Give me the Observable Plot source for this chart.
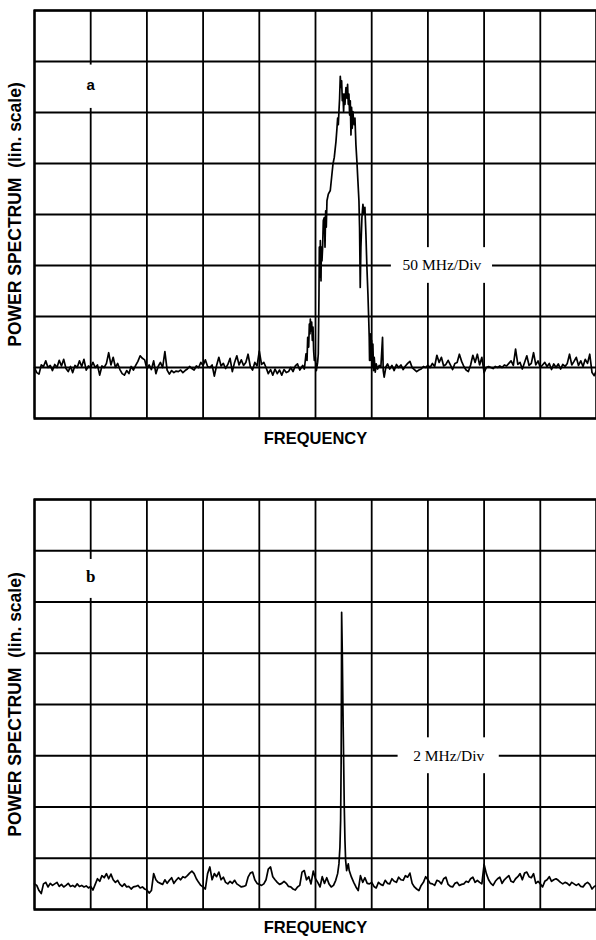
<!DOCTYPE html>
<html>
<head>
<meta charset="utf-8">
<script src="https://cdn.jsdelivr.net/npm/d3@7"></script>
<script src="https://cdn.jsdelivr.net/npm/@observablehq/plot@0.6"></script>
<style>
  html, body { margin: 0; padding: 0; background: #fff; }
  body { width: 596px; height: 940px; overflow: hidden; }
  .panel { width: 596px; height: 470px; overflow: hidden; }
  .panel svg { display: block; }
</style>
</head>
<body>
<div id="pa" class="panel"></div>
<div id="pb" class="panel"></div>
<script>
// ---- sampling of the analyser trace, in screen divisions ----
const sampleStep = 0.04;            // divisions between noise samples
const xDivisions = d3.range(0, 11); // 10 horizontal divisions
const yDivisions = d3.range(0, 9);  // 8 vertical divisions

// ---- Panel a (50 MHz/Div) ----
const aLeftStart = 0;
const aLeft = [
  1.0,0.90,0.87,1.05,1.02,1.13,1.0,1.04,0.94,1.06,
  1.0,1.14,1.03,1.16,0.98,0.92,1.02,0.90,1.04,1.0,
  1.13,1.02,1.16,0.95,1.03,1.0,1.10,1.0,1.05,0.85,
  1.03,1.0,1.08,1.29,1.05,1.20,1.0,1.08,0.96,0.88,
  0.85,0.94,0.88,1.02,0.95,1.04,1.12,1.23,1.18,1.15,
  0.97,1.05,0.96,1.13,0.88,1.02,1.10,1.0,1.31,0.95,
  0.87,0.94,0.90,0.93,0.92,0.95,0.90,0.94,0.97,1.02,
  0.98,0.95,1.03,1.0,1.10,1.04,1.15,1.02,1.0,1.05,
  0.83,1.04,1.20,1.03,1.08,0.98,1.06,1.18,0.92,1.10,
  1.23,1.05,1.15,1.04,1.10,1.26,1.02,0.95,1.10,1.03,
  1.32,1.06,1.10,1.0,0.88,0.96,0.85,0.97,0.88,0.95,
  0.85,0.96,0.90,0.92,1.0,0.92,1.03,1.07,0.95
];
const aPeakX = [
  4.772,4.802,4.831,4.849,4.861,4.879,4.890,4.902,4.908,4.920,
  4.932,4.944,4.956,4.967,4.979,4.997,5.015,5.038,5.050,5.062,
  5.068,5.080,5.086,5.098,5.104,5.115,5.127,5.139,5.157,5.169,
  5.181,5.192,5.204,5.228,5.263,5.287,5.311,5.334,5.364,5.382,
  5.394,5.406,5.417,5.429,5.441,5.453,5.465,5.477,5.488,5.500,
  5.512,5.524,5.542,5.560,5.571,5.583,5.595,5.607,5.619,5.631,
  5.642,5.654,5.666,5.678,5.690,5.702,5.719,5.737,5.755,5.773,
  5.784,5.796,5.808,5.826,5.844,5.861,5.879,5.897,5.915,5.933,
  5.944,5.956,5.962,5.974,5.986,5.998,6.010,6.021,6.033,6.045,
  6.063,6.081,6.104,6.134,6.163,6.193,6.205,6.222,6.252,6.282
];
const aPeakY = [
  1.04,0.97,1.27,1.14,1.59,1.40,1.85,1.66,1.95,1.72,
  1.89,1.53,1.79,1.33,1.14,1.20,0.94,1.10,1.27,2.44,
  3.36,2.77,3.49,2.70,3.36,3.09,3.36,3.88,3.94,3.36,
  4.07,3.75,4.27,4.40,4.47,4.73,4.99,5.12,5.43,5.69,
  5.89,5.76,6.02,6.28,6.71,6.49,6.62,6.23,6.36,6.02,
  6.36,6.16,6.49,6.28,6.55,6.16,6.36,5.95,6.23,5.56,
  6.10,5.69,6.02,5.82,5.76,5.89,5.37,5.04,4.65,4.27,
  3.75,2.57,3.36,3.94,4.20,4.01,4.14,3.62,2.96,2.44,
  2.05,1.59,1.14,1.66,1.14,1.53,1.01,1.46,0.94,1.20,
  0.91,1.07,0.97,1.04,1.01,1.59,0.94,0.81,1.01,1.07
];
const aRightStart = 6.32;
const aRight = [
  0.97,1.04,0.94,1.06,1.0,1.05,0.96,1.03,1.08,1.12,
  1.0,0.96,0.92,0.95,0.97,1.02,1.0,1.04,1.0,1.08,
  1.02,1.24,1.10,1.20,1.03,1.06,1.14,1.05,0.96,1.08,
  1.10,1.26,1.12,1.02,0.95,0.92,1.05,1.24,1.10,1.26,
  1.05,1.20,0.90,1.0,1.02,1.0,0.98,1.02,1.0,1.03,
  1.0,1.05,1.03,1.08,1.13,1.04,1.36,1.06,1.10,0.97,
  1.10,1.23,1.04,1.08,1.29,1.05,1.13,1.0,1.05,1.10,
  1.02,1.08,0.96,1.07,1.0,1.07,0.97,1.06,1.02,1.08,
  1.26,1.05,1.12,1.20,1.04,1.13,1.02,1.16,1.08,1.26,
  0.90,0.84,0.95
];

// ---- Panel b (2 MHz/Div) ----
const bLeftStart = 0;
const bLeft = [
  0.50,0.47,0.37,0.31,0.50,0.53,0.44,0.51,0.47,0.50,
  0.53,0.45,0.49,0.44,0.47,0.51,0.45,0.47,0.44,0.50,
  0.45,0.47,0.44,0.46,0.42,0.45,0.38,0.49,0.60,0.55,
  0.66,0.62,0.70,0.60,0.69,0.58,0.53,0.57,0.49,0.45,
  0.50,0.44,0.45,0.40,0.44,0.45,0.47,0.42,0.44,0.40,
  0.38,0.32,0.37,0.70,0.58,0.53,0.51,0.49,0.58,0.51,
  0.57,0.62,0.51,0.57,0.62,0.58,0.64,0.62,0.66,0.71,
  0.75,0.70,0.60,0.53,0.47,0.44,0.40,0.70,0.83,0.58,
  0.70,0.64,0.73,0.58,0.63,0.53,0.50,0.55,0.51,0.57,
  0.50,0.47,0.44,0.45,0.47,0.63,0.71,0.73,0.58,0.51,
  0.49,0.47,0.50,0.58,0.79,0.83,0.64,0.58,0.53,0.49,
  0.51,0.55,0.51,0.45,0.44,0.40,0.38,0.44,0.47,0.73,
  0.76,0.58,0.64,0.50,0.75,0.60,0.53,0.44,0.64,0.51,
  0.62,0.50,0.44,0.47,0.57
];
const bPeakX = [5.394,5.417,5.435,5.447,5.456,5.462,5.465,5.477,5.488,5.500,5.512,5.524,5.536,5.554,5.583];
const bPeakY = [0.70,0.89,1.22,1.74,2.84,4.47,5.80,4.99,3.95,2.97,2.00,1.35,0.96,0.76,0.89];
const bRightStart = 5.60;
const bRight = [
  0.76,0.63,0.53,0.44,0.37,0.66,0.53,0.62,0.51,0.50,
  0.53,0.45,0.42,0.53,0.49,0.47,0.57,0.51,0.50,0.60,
  0.55,0.53,0.63,0.58,0.57,0.66,0.63,0.71,0.51,0.44,
  0.40,0.37,0.47,0.53,0.64,0.58,0.51,0.50,0.47,0.57,
  0.55,0.50,0.60,0.63,0.49,0.45,0.44,0.51,0.53,0.47,
  0.49,0.50,0.55,0.53,0.60,0.63,0.53,0.57,0.53,0.50,
  0.88,0.70,0.58,0.51,0.47,0.55,0.60,0.63,0.51,0.58,
  0.62,0.66,0.55,0.53,0.60,0.64,0.70,0.58,0.71,0.73,
  0.64,0.62,0.70,0.51,0.55,0.50,0.44,0.55,0.58,0.64,
  0.55,0.58,0.60,0.57,0.53,0.50,0.53,0.51,0.47,0.53,
  0.50,0.47,0.50,0.45,0.44,0.50,0.53,0.49,0.40,0.45,
  0.47
];

// ---- annotations ----
const aPanelLabel = [{x: 1, y: 6.53, text: "a"}];
const bPanelLabel = [{x: 1, y: 6.50, text: "b"}];
const aScaleLabel = [{x: 7.25, y: 3, text: "50 MHz/Div"}];
const bScaleLabel = [{x: 7.37, y: 3, text: "2 MHz/Div"}];
const xTitle = "FREQUENCY";
const yTitle = "POWER SPECTRUM\u00a0\u00a0(lin. scale)";

function sampled(start, values) {
  return values.map((v, i) => ({x: start + i * sampleStep, y: v}));
}
function paired(xs, ys) {
  return xs.map((x, i) => ({x, y: ys[i]}));
}

const traceA = [...sampled(aLeftStart, aLeft), ...paired(aPeakX, aPeakY), ...sampled(aRightStart, aRight)];
const traceB = [...sampled(bLeftStart, bLeft), ...paired(bPeakX, bPeakY), ...sampled(bRightStart, bRight)];

const SANS = "'Liberation Sans', Arial, Helvetica, sans-serif";
const SERIF = "'Liberation Serif', 'Times New Roman', serif";

function panel({trace, top, bottom, panelLabel, panelFont, panelSize, scaleLabel, boxTop, boxBottom, xTitleDy}) {
  return Plot.plot({
    width: 596,
    height: 470,
    marginLeft: 34,
    marginRight: 0,
    marginTop: top,
    marginBottom: bottom,
    x: {domain: [0, 10], axis: null},
    y: {domain: [0, 8], axis: null},
    style: {background: "#fff", overflow: "visible"},
    marks: [
      Plot.gridX(xDivisions, {stroke: "#000", strokeOpacity: 1, strokeWidth: 1.8}),
      Plot.gridY(yDivisions, {stroke: "#000", strokeOpacity: 1, strokeWidth: 1.8}),
      Plot.frame({stroke: "#000", strokeWidth: 2.3}),
      // white gaps in the graticule behind annotations
      Plot.rect(panelLabel, {x1: d => d.x - 0.15, x2: d => d.x + 0.15, y1: d => d.y - boxBottom, y2: d => d.y + boxTop, fill: "#fff"}),
      Plot.rect(scaleLabel, {x1: d => d.x - 0.9, x2: d => d.x + 0.9, y1: d => d.y - 0.35, y2: d => d.y + 0.35, fill: "#fff"}),
      Plot.line(trace, {x: "x", y: "y", stroke: "#000", strokeWidth: 1.7, strokeLinejoin: "round"}),
      Plot.text(panelLabel, {x: "x", y: "y", text: "text", fontFamily: panelFont, fontWeight: "bold", fontSize: panelSize, fill: "#000"}),
      Plot.text(scaleLabel, {x: "x", y: "y", text: "text", fontFamily: SERIF, fontSize: 15.5, fill: "#000"}),
      Plot.text([xTitle], {frameAnchor: "bottom", dy: xTitleDy, textAnchor: "middle", lineAnchor: "middle", fontFamily: SANS, fontWeight: "bold", fontSize: 16.5, letterSpacing: "0.4px", fill: "#000"}),
      Plot.text([yTitle], {frameAnchor: "left", dx: -19, rotate: -90, textAnchor: "middle", lineAnchor: "middle", fontFamily: SANS, fontWeight: "bold", fontSize: 17.5, fill: "#000"})
    ]
  });
}

document.getElementById("pa").append(panel({
  trace: traceA, top: 10, bottom: 52,
  panelLabel: aPanelLabel, panelFont: SANS, panelSize: 15,
  scaleLabel: aScaleLabel, boxTop: 0.4, boxBottom: 0.45, xTitleDy: 20
}));
document.getElementById("pb").append(panel({
  trace: traceB, top: 29, bottom: 31,
  panelLabel: bPanelLabel, panelFont: SERIF, panelSize: 17,
  scaleLabel: bScaleLabel, boxTop: 0.33, boxBottom: 0.43, xTitleDy: 18
}));
</script>
</body>
</html>
